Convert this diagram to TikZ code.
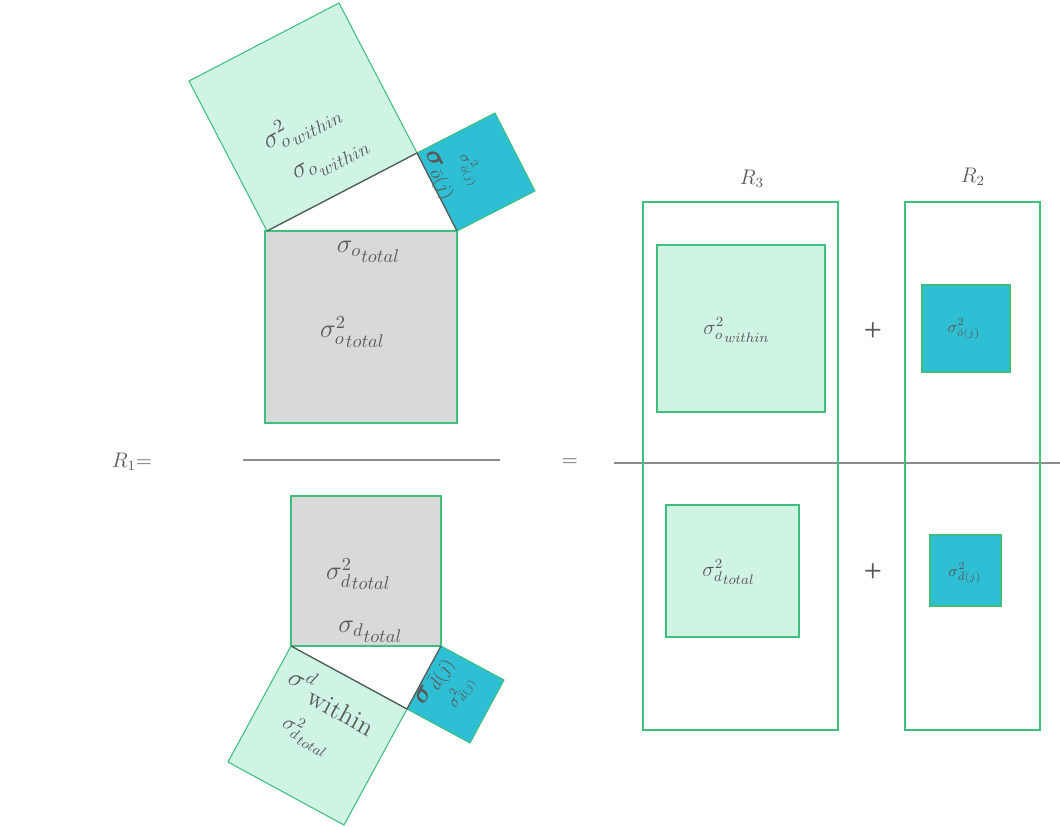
\RequirePackage{fix-cm}
\documentclass[tikz,border=0pt]{standalone}
\usepackage{amssymb}
\usepackage{amsmath}
\usepackage{xcolor}
\usepackage{tikz}
\usetikzlibrary{calc,positioning}

\definecolor{mint}{HTML}{D0F4E4}
\definecolor{edgegreen}{HTML}{3DBF7D}
\definecolor{sqcyan}{HTML}{2FBFD5}
\definecolor{sqgray}{HTML}{D9D9D9}
\definecolor{ink}{HTML}{595959}
\definecolor{rulegray}{HTML}{8C8C8C}

% sigma with a subscript, and a second subscript set lower
\newcommand{\subsub}[2]{{#1}\lower0.9ex\hbox{$\scriptstyle #2$}}

\begin{document}
\begin{tikzpicture}[x=0.02cm, y=-0.02cm,
	greensq/.style={fill=mint, draw=edgegreen, line width=0.6pt},
	cyansq/.style={fill=sqcyan, draw=edgegreen, line width=0.6pt},
	graysq/.style={fill=sqgray, draw=edgegreen, line width=0.8pt},
	frame/.style={draw=edgegreen, line width=0.9pt},
	side/.style={draw=ink, line width=0.7pt},
	lbl/.style={text=ink, inner sep=0pt},
	big/.style={lbl, font=\fontsize{15}{18}\selectfont},
	mid/.style={lbl, font=\fontsize{12}{14}\selectfont},
	small/.style={lbl, font=\fontsize{9}{11}\selectfont}]
	\useasboundingbox (0, 0) rectangle (1060, 827);

	% numerator: observed
	\coordinate (oa) at (267, 231);
	\coordinate (ob) at (457, 231);
	\coordinate (oc) at (417, 153);
	\draw[graysq] (265, 231) rectangle (457, 423);
	\draw[greensq] (oa) -- (oc) -- (339, 3) -- (189, 81) -- cycle;
	\draw[cyansq] (oc) -- (ob) -- (535, 191) -- (495, 113) -- cycle;
	\draw[side] (oa) -- (oc) -- (ob);
		\node[big, rotate=27.5] (owvar) at (301, 126) {$\subsub{\sigma^2_o}{within}$};
		\node[big, rotate=27.5] (owsd) at (331, 161) {$\subsub{\sigma_o}{within}$};
		\node[big, rotate=-63] (ojsd) at (438, 176) {$\boldsymbol{\sigma}_{\bar o(j)}$};
		\node[small, rotate=-63] (ojvar) at (470, 170) {$\sigma^2_{\bar o(j)}$};
		\node[big] (otsd) at (368, 252) {$\subsub{\sigma_o}{total}$};
		\node[big] (otvar) at (352, 332) {$\subsub{\sigma^2_o}{total}$};

	% fraction
	\node[mid] (rone) at (132, 462) {$R_1$=};
	\draw[rulegray, line width=1.2pt] (243, 460) -- (500, 460);
	\node[mid] (eq) at (570, 463) {=};
	\draw[rulegray, line width=1.2pt] (614, 463) -- (1060, 463);

	% denominator: duplicate
	\coordinate (da) at (291, 646);
	\coordinate (db) at (441, 646);
	\coordinate (dc) at (407, 709);
	\draw[graysq] (291, 496) rectangle (441, 646);
	\draw[greensq] (da) -- (dc) -- (344, 825) -- (228, 762) -- cycle;
	\draw[cyansq] (dc) -- (db) -- (504, 680) -- (470, 743) -- cycle;
	\draw[side] (da) -- (dc) -- (db);
		\node[big] (dtvar) at (358, 574) {$\subsub{\sigma^2_d}{total}$};
		\node[big] (dtsd) at (370, 632) {$\subsub{\sigma_d}{total}$};
		\node[big, rotate=-28.5] (dwsd) at (333, 700) {${\sigma^d}_{\textstyle\mathrm{within}}$};
		\node[mid, rotate=-28.5] (dwvar) at (306, 735) {$\subsub{\sigma^2_d}{total}$};
		\node[big, rotate=61.6] (djsd) at (436, 682) {$\boldsymbol{\sigma}_{\bar d(j)}$};
		\node[small, rotate=61.6] (djvar) at (461, 692) {$\sigma^2_{\bar d(j)}$};

	% right hand side
	\node[mid] (rthree) at (752, 179) {$R_3$};
	\node[mid] (rtwo) at (973, 177) {$R_2$};
	\draw[frame] (643, 202) rectangle (838, 730);
	\draw[frame] (905, 202) rectangle (1040, 730);
		\draw[greensq] (657, 245) rectangle (825, 412);
		\node[mid] (rwvar) at (736, 330) {$\subsub{\sigma^2_o}{within}$};
		\node[lbl, font=\sffamily\bfseries\large] (plusa) at (873, 330) {+};
		\draw[cyansq] (922, 285) rectangle (1010, 372);
		\node[small] (rojvar) at (964, 329) {$\sigma^2_{\bar o(j)}$};

		\draw[greensq] (666, 505) rectangle (799, 637);
		\node[mid] (rdvar) at (728, 572) {$\subsub{\sigma^2_d}{total}$};
		\node[lbl, font=\sffamily\bfseries\large] (plusb) at (873, 571) {+};
		\draw[cyansq] (930, 535) rectangle (1001, 606);
		\node[small] (rdjvar) at (965, 573) {$\sigma^2_{\bar d(j)}$};
\end{tikzpicture}
\end{document}
